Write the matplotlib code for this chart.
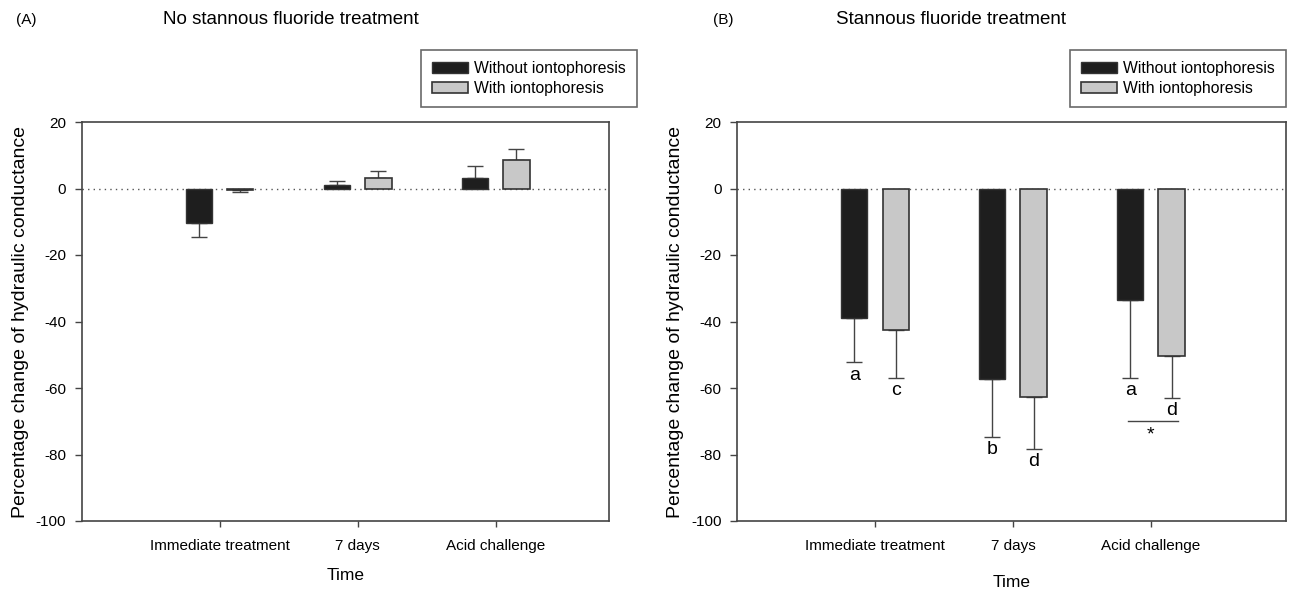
import matplotlib
matplotlib.use("Agg")
import matplotlib.pyplot as plt
import numpy as np

plt.rcParams["font.family"] = ["Liberation Sans", "DejaVu Sans"]
plt.rcParams["axes.unicode_minus"] = False

# data
times = ["Immediate treatment", "7 days", "Acid challenge"]
series = ["Without iontophoresis", "With iontophoresis"]

# (A) no stannous fluoride treatment
a_without = [-10.5, 1.2, 3.3]
a_without_err = [4.0, 1.2, 3.6]
a_with = [-0.5, 3.3, 8.7]
a_with_err = [0.5, 2.1, 3.3]

# (B) stannous fluoride treatment
b_without = [-38.8, -57.3, -33.4]
b_without_err = [13.5, 17.3, 23.6]
b_with = [-42.5, -62.7, -50.3]
b_with_err = [14.5, 15.5, 12.7]
b_without_letters = ["a", "b", "a"]
b_with_letters = ["c", "d", "d"]

dark = "#1e1e1e"
light = "#c8c8c8"
edge = "#333333"

fig = plt.figure(figsize=(12.93, 5.91), dpi=100)
axA = fig.add_axes([81.5 / 1293, 70 / 591, 527.5 / 1293, 399 / 591])
axB = fig.add_axes([737 / 1293, 70 / 591, 549 / 1293, 399 / 591])


def one_sided(vals, errs):
    lo = [e if v < 0 else 0 for v, e in zip(vals, errs)]
    hi = [e if v >= 0 else 0 for v, e in zip(vals, errs)]
    return [lo, hi]


def draw_panel(ax, without, without_err, with_, with_err, xmax, leg_right, xpad):
    x = np.arange(1, len(times) + 1)
    w = 0.19
    off = 0.15
    ax.axhline(0, color="#555555", lw=1, ls=(0, (1, 3)), zorder=1)
    ax.bar(x - off, without, w, color=dark, edgecolor=edge, lw=1, label=series[0], zorder=3)
    ax.bar(x + off, with_, w, color=light, edgecolor=edge, lw=1.2, label=series[1], zorder=3)
    ax.errorbar(x - off, without, yerr=one_sided(without, without_err), fmt="none",
                ecolor="#444444", elinewidth=1, capsize=6, capthick=1, zorder=2)
    ax.errorbar(x + off, with_, yerr=one_sided(with_, with_err), fmt="none",
                ecolor="#444444", elinewidth=1, capsize=6, capthick=1, zorder=2)
    ax.set_xlim(0, xmax)
    ax.set_ylim(-100, 20)
    ax.set_yticks(np.arange(-100, 21, 20))
    ax.set_xticks(x)
    ax.set_xticklabels(times)
    ax.tick_params(axis="both", direction="out", length=5, width=1, color="#444444",
                   labelsize=11, pad=6)
    ax.tick_params(axis="x", length=4, pad=9)
    for s in ax.spines.values():
        s.set_color("#444444")
        s.set_linewidth(1.2)
    ax.set_xlabel("Time", fontsize=12.5, labelpad=xpad)
    ax.set_ylabel("Percentage change of hydraulic conductance", fontsize=14, labelpad=5)
    leg = ax.legend(loc="upper right", bbox_to_anchor=(leg_right, 1.18),
                    borderaxespad=0, fontsize=11.3, frameon=True, fancybox=False,
                    handlelength=2.3, handleheight=0.7, borderpad=0.7, handletextpad=0.4,
                    labelspacing=0.3)
    leg.get_frame().set_edgecolor("#444444")
    leg.get_frame().set_linewidth(1.2)
    return x, off


draw_panel(axA, a_without, a_without_err, a_with, a_with_err, 3.82, 1.0 + 28 / 527.5, 11)
x, off = draw_panel(axB, b_without, b_without_err, b_with, b_with_err, 3.98, 1.0, 16)

# significance letters under the error bars
for xi, v, e, t in zip(x - off, b_without, b_without_err, b_without_letters):
    axB.annotate(t, (xi, v - e), xytext=(0, -3), textcoords="offset points",
                 ha="center", va="top", fontsize=14)
for xi, v, e, t in zip(x + off, b_with, b_with_err, b_with_letters):
    axB.annotate(t, (xi, v - e), xytext=(0, -3), textcoords="offset points",
                 ha="center", va="top", fontsize=14)
axB.plot([2.835, 3.2], [-70, -70], color="#444444", lw=1)
axB.text(3.0, -71.5, "*", ha="center", va="top", fontsize=14)

fig.text(26 / 1293, 1 - 20 / 591, "(A)", ha="center", va="center", fontsize=11)
fig.text(163 / 1293, 1 - 20 / 591, "No stannous fluoride treatment", ha="left", va="center", fontsize=13.5)
fig.text(723 / 1293, 1 - 20 / 591, "(B)", ha="center", va="center", fontsize=11)
fig.text(836 / 1293, 1 - 20 / 591, "Stannous fluoride treatment", ha="left", va="center", fontsize=13.5)

fig.savefig("out.png", dpi=100)
